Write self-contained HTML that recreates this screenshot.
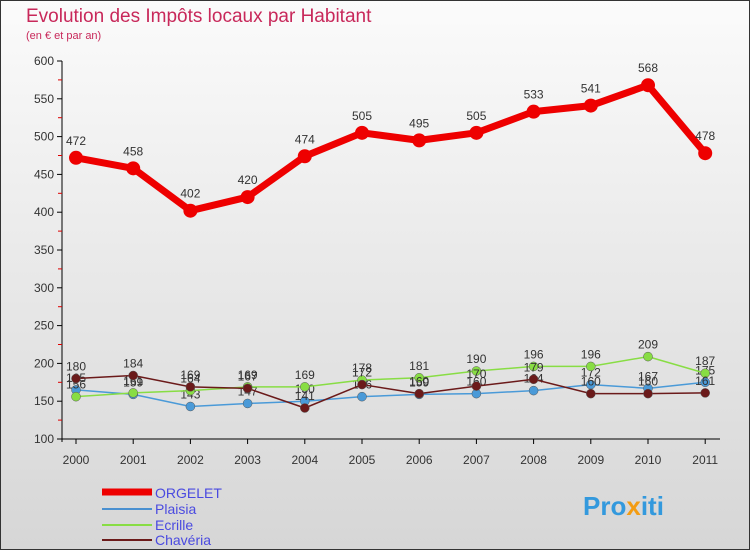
<!DOCTYPE html>
<html><head><meta charset="utf-8"><style>
body{margin:0;width:750px;height:550px;overflow:hidden;font-family:"Liberation Sans",sans-serif}
</style></head><body>
<svg width="750" height="550" id="c">
<defs><linearGradient id="bg" x1="0" y1="0" x2="0" y2="1"><stop offset="0" stop-color="#fbfbfb"/><stop offset="1" stop-color="#d6d6d6"/></linearGradient></defs>
<rect x="0.5" y="0.5" width="749" height="549" fill="url(#bg)" stroke="#333"/>
<text x="26" y="22" font-size="19" fill="#c8285a">Evolution des Impôts locaux par Habitant</text>
<text x="26" y="39" font-size="11" fill="#c8285a">(en € et par an)</text>
<g id="axes"></g><g id="series"></g>
<g>
<line x1="102" y1="492" x2="152" y2="492" stroke="#e00" stroke-width="7"/>
<text x="155" y="498" font-size="14" fill="#4a4ae0">ORGELET</text>
<line x1="102" y1="509" x2="152" y2="509" stroke="#4a90d0" stroke-width="2"/>
<text x="155" y="514" font-size="14" fill="#4a4ae0">Plaisia</text>
<line x1="102" y1="525" x2="152" y2="525" stroke="#88dd44" stroke-width="2"/>
<text x="155" y="530" font-size="14" fill="#4a4ae0">Ecrille</text>
<line x1="102" y1="540" x2="152" y2="540" stroke="#6b1a1a" stroke-width="2"/>
<text x="155" y="545" font-size="14" fill="#4a4ae0">Chavéria</text>
</g>
<text x="583" y="515" font-size="26" font-weight="bold" fill="#3399dd">Pro<tspan fill="#f39c12">x</tspan>iti</text>
</svg>
<script>
const years=["2000","2001","2002","2003","2004","2005","2006","2007","2008","2009","2010","2011"];
const yTicks=[100,150,200,250,300,350,400,450,500,550,600];
const orgelet=[472,458,402,420,474,505,495,505,533,541,568,478];
const plaisia=[165,159,143,147,150,156,159,160,164,172,167,175];
const ecrille=[156,161,164,169,169,178,181,190,196,196,209,187];
const chaveria=[180,184,169,167,141,172,160,170,179,160,160,161];
const NS="http://www.w3.org/2000/svg";
const X=i=>76+i*57.2, Y=v=>439-(v-100)*0.756;
function mk(t,a,p){const e=document.createElementNS(NS,t);for(const k in a)e.setAttribute(k,a[k]);p.appendChild(e);return e;}
const ax=document.getElementById('axes'), sg=document.getElementById('series');
mk('line',{x1:62,y1:61,x2:62,y2:442,stroke:'#000'},ax);
mk('line',{x1:62,y1:439,x2:720,y2:439,stroke:'#000'},ax);
for(let v=100;v<=600;v+=25){const t=mk('line',{x1:v%50?58:57,y1:Y(v),x2:62,y2:Y(v),stroke:v%50?'#d00':'#000'},ax);}
yTicks.forEach(v=>{const t=mk('text',{x:54,y:Y(v)+4,'font-size':12,'text-anchor':'end',fill:'#333'},ax);t.textContent=v;
});
years.forEach((y,i)=>{mk('line',{x1:X(i),y1:439,x2:X(i),y2:444,stroke:'#000'},ax);
const t=mk('text',{x:X(i),y:464,'font-size':12,'text-anchor':'middle',fill:'#333'},ax);t.textContent=y;
});
function series(d,col,w,r,name){
const g=mk('g',{},sg);
mk('polyline',{points:d.map((v,i)=>X(i)+','+Y(v)).join(' '),fill:'none',stroke:col,'stroke-width':w,'stroke-linejoin':'round'},g);
d.forEach((v,i)=>{const c=mk('circle',{cx:X(i),cy:Y(v),r:r,fill:col,stroke:w>3?'none':'#555','stroke-width':0.5},g);

const t=mk('text',{x:X(i),y:Y(v)-(w>3?13:8),'font-size':12,'text-anchor':'middle',fill:'#333'},g);t.textContent=v;
});}
series(plaisia,'#4a9ad8',1.5,4.5,'plaisia');
series(ecrille,'#88dd44',1.5,4.5,'ecrille');
series(chaveria,'#6b1a1a',1.5,4.5,'chaveria');
series(orgelet,'#e00',7,7,'orgelet');
</script>
</body></html>
